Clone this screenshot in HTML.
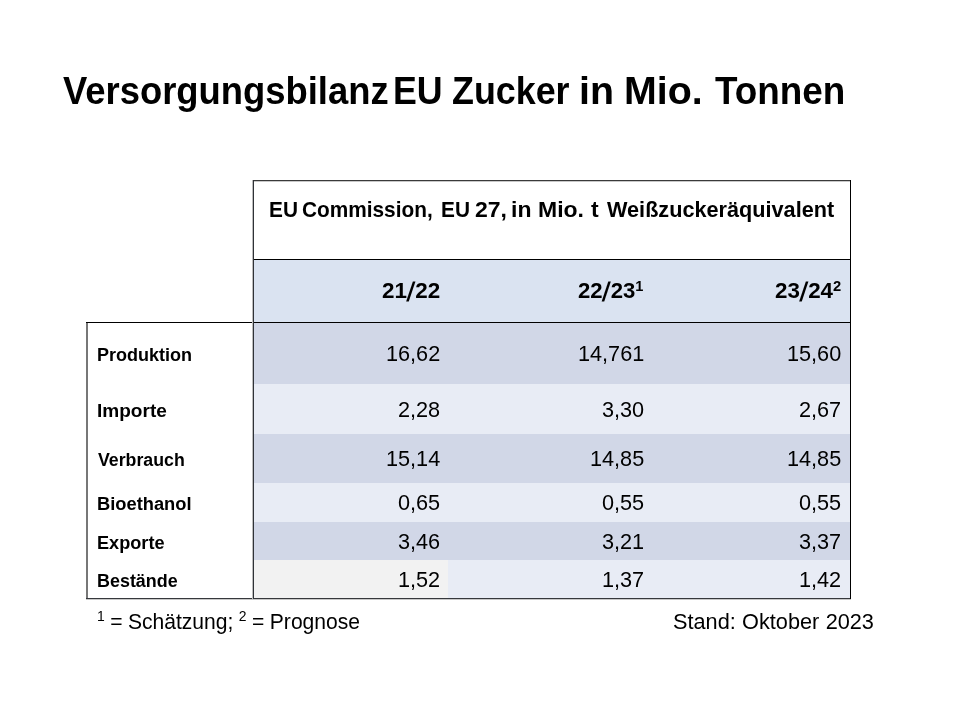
<!DOCTYPE html>
<html><head><meta charset="utf-8"><title>Versorgungsbilanz EU Zucker</title><style>
html,body{margin:0;padding:0;background:#fff}
body{position:relative;font-family:"Liberation Sans", sans-serif;color:#000}
.r div,.t{position:absolute}
.t{white-space:nowrap;line-height:normal;filter:grayscale(1)}
.sl{font-style:normal;display:inline-block;margin:0 1px;transform:translateY(1.5px) scaleY(1.22) skewX(-12deg)}
sup{font-size:66%;vertical-align:0;position:relative;top:-0.5em}

html,body{width:960px;height:720px;overflow:hidden}
.t{transform-origin:0 0}
</style></head><body>
<div class="r">
<div style="left:253px;top:259px;width:597px;height:63px;background:#DAE3F1"></div>
<div style="left:253px;top:322px;width:597px;height:62px;background:#D1D7E7"></div>
<div style="left:253px;top:384px;width:597px;height:50px;background:#E8ECF5"></div>
<div style="left:253px;top:434px;width:597px;height:49px;background:#D1D7E7"></div>
<div style="left:253px;top:483px;width:597px;height:39px;background:#E8ECF5"></div>
<div style="left:253px;top:522px;width:597px;height:38px;background:#D1D7E7"></div>
<div style="left:253px;top:560px;width:597px;height:38px;background:#E8ECF5"></div>
<div style="left:253px;top:560px;width:195px;height:38px;background:#F2F2F2"></div>
<div style="left:86px;top:322px;width:2px;height:277px;background:#777777"></div>
<div style="left:253px;top:180px;width:598px;height:1px;background:#3a3a3a"></div>
<div style="left:253px;top:181px;width:598px;height:1px;background:#c8c8c8"></div>
<div style="left:253px;top:259px;width:598px;height:1px;background:#000000"></div>
<div style="left:86px;top:322px;width:765px;height:1px;background:#000000"></div>
<div style="left:86px;top:598px;width:765px;height:1px;background:#36383c"></div>
<div style="left:86px;top:599px;width:765px;height:1px;background:#c8c8c8"></div>
<div style="left:252px;top:180px;width:1px;height:419px;background:#bdbdbd"></div>
<div style="left:253px;top:180px;width:1px;height:419px;background:#2f3237"></div>
<div style="left:850px;top:180px;width:1px;height:419px;background:#000000"></div>
</div>
<div class="t" style="left:63.30px;top:69.61px;font-size:38px;font-weight:bold;transform:scaleX(0.9578);word-spacing:0.00px">Versorgungsbilanz</div>
<div class="t" style="left:393.48px;top:69.61px;font-size:38px;font-weight:bold;transform:scaleX(0.9404);word-spacing:0.00px">EU</div>
<div class="t" style="left:452.06px;top:69.61px;font-size:38px;font-weight:bold;transform:scaleX(0.9431);word-spacing:0.00px">Zucker</div>
<div class="t" style="left:578.66px;top:69.61px;font-size:38px;font-weight:bold;transform:scaleX(1.0348);word-spacing:0.00px">in</div>
<div class="t" style="left:624.18px;top:69.61px;font-size:38px;font-weight:bold;transform:scaleX(1.0348);word-spacing:0.00px">Mio.</div>
<div class="t" style="left:714.50px;top:69.61px;font-size:38px;font-weight:bold;transform:scaleX(0.9697);word-spacing:0.00px">Tonnen</div>
<div class="t" style="left:269.31px;top:197.09px;font-size:22px;font-weight:bold;transform:scaleX(0.9460);word-spacing:0.00px">EU</div>
<div class="t" style="left:302.47px;top:197.09px;font-size:22px;font-weight:bold;transform:scaleX(0.9460);word-spacing:0.00px">Commission,</div>
<div class="t" style="left:440.81px;top:197.09px;font-size:22px;font-weight:bold;transform:scaleX(0.9460);word-spacing:0.00px">EU</div>
<div class="t" style="left:475.33px;top:197.09px;font-size:22px;font-weight:bold;transform:scaleX(1.0446);word-spacing:0.00px">27,</div>
<div class="t" style="left:511.05px;top:197.09px;font-size:22px;font-weight:bold;transform:scaleX(1.0446);word-spacing:0.00px">in</div>
<div class="t" style="left:538.02px;top:197.09px;font-size:22px;font-weight:bold;transform:scaleX(1.0446);word-spacing:0.00px">Mio.</div>
<div class="t" style="left:591.09px;top:197.09px;font-size:22px;font-weight:bold;transform:scaleX(1.0446);word-spacing:0.00px">t</div>
<div class="t" style="left:606.50px;top:197.09px;font-size:22px;font-weight:bold;transform:scaleX(0.9848);word-spacing:0.00px">Weißzuckeräquivalent</div>
<div class="t" style="left:381.98px;top:278.09px;font-size:22px;font-weight:bold;transform:scaleX(1.0182);word-spacing:0.00px">21<i class="sl">/</i>22</div>
<div class="t" style="left:578.00px;top:278.09px;font-size:22px;font-weight:bold;transform:scaleX(1.0047);word-spacing:0.00px">22<i class="sl">/</i>23<sup>1</sup></div>
<div class="t" style="left:774.98px;top:278.09px;font-size:22px;font-weight:bold;transform:scaleX(1.0159);word-spacing:0.00px">23<i class="sl">/</i>24<sup>2</sup></div>
<div class="t" style="left:385.81px;top:341.09px;font-size:22px;font-weight:normal;transform:scaleX(0.9850);word-spacing:0.00px">16,62</div>
<div class="t" style="left:577.99px;top:341.09px;font-size:22px;font-weight:normal;transform:scaleX(0.9850);word-spacing:0.00px">14,761</div>
<div class="t" style="left:786.81px;top:341.09px;font-size:22px;font-weight:normal;transform:scaleX(0.9850);word-spacing:0.00px">15,60</div>
<div class="t" style="left:397.63px;top:397.09px;font-size:22px;font-weight:normal;transform:scaleX(0.9850);word-spacing:0.00px">2,28</div>
<div class="t" style="left:601.63px;top:397.09px;font-size:22px;font-weight:normal;transform:scaleX(0.9850);word-spacing:0.00px">3,30</div>
<div class="t" style="left:798.63px;top:397.09px;font-size:22px;font-weight:normal;transform:scaleX(0.9850);word-spacing:0.00px">2,67</div>
<div class="t" style="left:385.81px;top:446.09px;font-size:22px;font-weight:normal;transform:scaleX(0.9850);word-spacing:0.00px">15,14</div>
<div class="t" style="left:589.81px;top:446.09px;font-size:22px;font-weight:normal;transform:scaleX(0.9850);word-spacing:0.00px">14,85</div>
<div class="t" style="left:786.81px;top:446.09px;font-size:22px;font-weight:normal;transform:scaleX(0.9850);word-spacing:0.00px">14,85</div>
<div class="t" style="left:397.63px;top:490.09px;font-size:22px;font-weight:normal;transform:scaleX(0.9850);word-spacing:0.00px">0,65</div>
<div class="t" style="left:601.63px;top:490.09px;font-size:22px;font-weight:normal;transform:scaleX(0.9850);word-spacing:0.00px">0,55</div>
<div class="t" style="left:798.63px;top:490.09px;font-size:22px;font-weight:normal;transform:scaleX(0.9850);word-spacing:0.00px">0,55</div>
<div class="t" style="left:397.63px;top:529.09px;font-size:22px;font-weight:normal;transform:scaleX(0.9850);word-spacing:0.00px">3,46</div>
<div class="t" style="left:601.63px;top:529.09px;font-size:22px;font-weight:normal;transform:scaleX(0.9850);word-spacing:0.00px">3,21</div>
<div class="t" style="left:798.63px;top:529.09px;font-size:22px;font-weight:normal;transform:scaleX(0.9850);word-spacing:0.00px">3,37</div>
<div class="t" style="left:397.63px;top:567.09px;font-size:22px;font-weight:normal;transform:scaleX(0.9850);word-spacing:0.00px">1,52</div>
<div class="t" style="left:601.63px;top:567.09px;font-size:22px;font-weight:normal;transform:scaleX(0.9850);word-spacing:0.00px">1,37</div>
<div class="t" style="left:798.63px;top:567.09px;font-size:22px;font-weight:normal;transform:scaleX(0.9850);word-spacing:0.00px">1,42</div>
<div class="t" style="left:97.30px;top:344.71px;font-size:18px;font-weight:bold;transform:scaleX(1.0011);word-spacing:0.00px">Produktion</div>
<div class="t" style="left:97.24px;top:400.71px;font-size:18px;font-weight:bold;transform:scaleX(1.0578);word-spacing:0.00px">Importe</div>
<div class="t" style="left:98.30px;top:449.71px;font-size:18px;font-weight:bold;transform:scaleX(0.9851);word-spacing:0.00px">Verbrauch</div>
<div class="t" style="left:97.28px;top:493.71px;font-size:18px;font-weight:bold;transform:scaleX(1.0165);word-spacing:0.00px">Bioethanol</div>
<div class="t" style="left:97.29px;top:532.71px;font-size:18px;font-weight:bold;transform:scaleX(1.0077);word-spacing:0.00px">Exporte</div>
<div class="t" style="left:97.30px;top:570.71px;font-size:18px;font-weight:bold;transform:scaleX(0.9962);word-spacing:0.00px">Bestände</div>
<div class="t" style="left:97.22px;top:609.54px;font-size:21.5px;font-weight:normal;transform:scaleX(0.9800);word-spacing:-0.40px"><sup>1</sup> = Schätzung; <sup>2</sup> = Prognose</div>
<div class="t" style="left:672.99px;top:609.54px;font-size:21.5px;font-weight:normal;transform:scaleX(1.0100);word-spacing:0.27px">Stand: Oktober 2023</div>
</body></html>
